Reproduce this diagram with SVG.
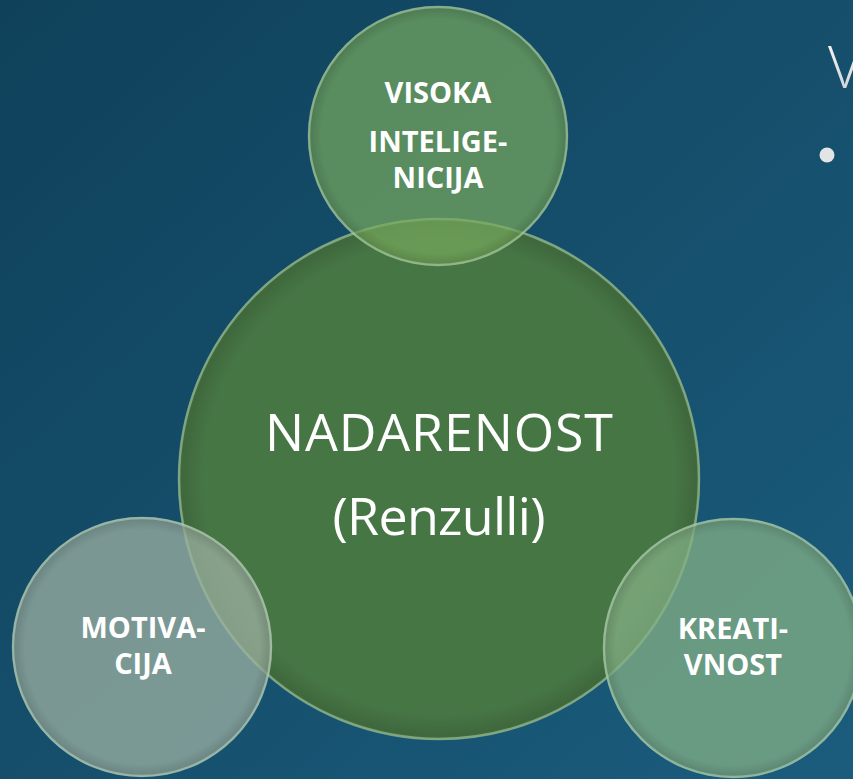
<svg xmlns="http://www.w3.org/2000/svg" width="853" height="779" viewBox="0 0 853 779">
<defs>
<linearGradient id="bg" x1="0" y1="0" x2="1" y2="1">
<stop offset="0" stop-color="#0f415a"/>
<stop offset="1" stop-color="#1b5c7d"/>
</linearGradient>
<linearGradient id="vg" x1="0" y1="0" x2="0" y2="1">
<stop offset="0" stop-color="#ffffff"/>
<stop offset="1" stop-color="#c8ccd0"/>
</linearGradient>
<radialGradient id="shade" cx="0.5" cy="0.5" r="0.5">
<stop offset="0.9" stop-color="#000" stop-opacity="0"/>
<stop offset="0.985" stop-color="#000" stop-opacity="0.12"/>
<stop offset="1" stop-color="#000" stop-opacity="0"/>
</radialGradient>
<style>
.rim{fill:none;stroke:#c8e6c8;stroke-opacity:0.45;stroke-width:2.5}
.lbl{font-family:"Open Sans","Noto Sans","Liberation Sans",sans-serif;font-weight:bold;font-size:29px;fill:#ffffff;text-anchor:middle}
.big{font-family:"Open Sans","Noto Sans","Liberation Sans",sans-serif;font-size:52px;fill:#ffffff;text-anchor:middle}
</style>
</defs>
<rect width="853" height="779" fill="url(#bg)"/>
<text x="828" y="88" font-family="Open Sans, Noto Sans, sans-serif" font-weight="300" font-size="58" fill="url(#vg)">V</text>
<circle cx="827" cy="155" r="7.5" fill="#e2e4e6"/>
<g id="node-center">
<circle cx="439" cy="479" r="261" fill="#477645"/>
<circle cx="439" cy="479" r="261" fill="url(#shade)"/>
<circle cx="439" cy="479" r="260" class="rim" stroke-opacity="0.25"/>
<text class="big" x="439" y="451" textLength="348" lengthAdjust="spacing">NADARENOST</text>
<text class="big" x="439" y="535" textLength="213" lengthAdjust="spacing">(Renzulli)</text>
</g>
<g id="node-top">
<circle cx="438" cy="136" r="130" fill="#78a95c" fill-opacity="0.7"/>
<circle cx="438" cy="136" r="130" fill="url(#shade)"/>
<circle cx="438" cy="136" r="129" class="rim"/>
<text class="lbl" x="438" y="103">VISOKA</text>
<text class="lbl" x="438" y="152">INTELIGE-</text>
<text class="lbl" x="438" y="188">NICIJA</text>
</g>
<g id="node-left">
<circle cx="142" cy="647" r="130" fill="#9cb0a1" fill-opacity="0.75"/>
<circle cx="142" cy="647" r="130" fill="url(#shade)"/>
<circle cx="142" cy="647" r="129" class="rim"/>
<text class="lbl" x="143" y="638">MOTIVA-</text>
<text class="lbl" x="143" y="674">CIJA</text>
</g>
<g id="node-right">
<circle cx="733" cy="648" r="130" fill="#84b085" fill-opacity="0.75"/>
<circle cx="733" cy="648" r="130" fill="url(#shade)"/>
<circle cx="733" cy="648" r="129" class="rim"/>
<text class="lbl" x="733" y="639">KREATI-</text>
<text class="lbl" x="733" y="675">VNOST</text>
</g>
<g id="connectors"/>
</svg>
